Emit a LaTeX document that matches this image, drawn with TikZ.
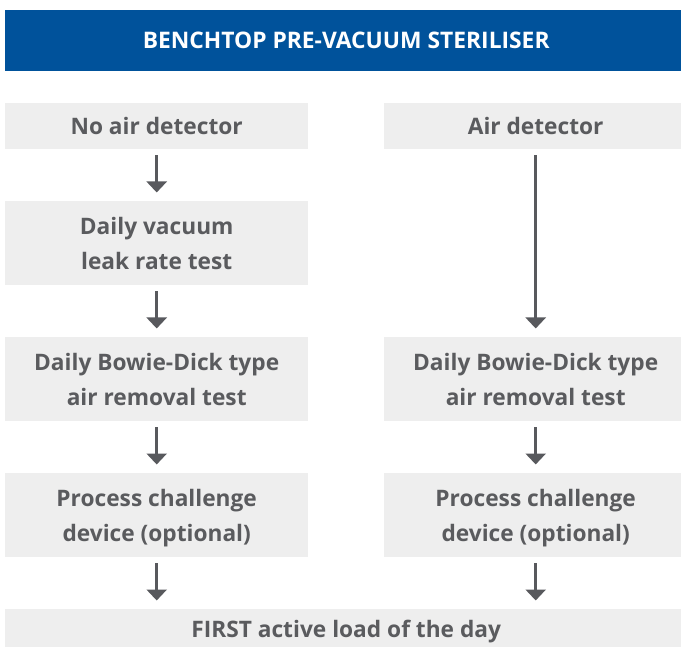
\documentclass[tikz,border=0pt]{standalone}
\usepackage{fontspec}
\setmainfont{Open Sans}
\usetikzlibrary{arrows.meta}
\definecolor{hdrblue}{RGB}{0,82,155}
\definecolor{boxgray}{RGB}{238,238,238}
\definecolor{txtgray}{RGB}{90,91,94}
\definecolor{arrgray}{RGB}{88,89,93}
\newcommand{\nodepth}[1]{\raisebox{0pt}[\height][0pt]{#1}}
\begin{document}
\begin{tikzpicture}[x=1pt,y=-1pt,
  box/.style={rectangle, fill=boxgray, inner sep=0pt, minimum width=303pt,
    text=txtgray, font=\fontsize{22.7}{35}\selectfont\bfseries, align=center,
    anchor=north west},
  onebox/.style={box, text height=16pt, text depth=0pt},
  arr/.style={draw=arrgray, line width=2.6pt,
    -{Triangle[width=20pt,length=11pt]}, shorten <=6pt, shorten >=8.5pt}]
\useasboundingbox (0,0) rectangle (681,647);
\clip (0,0) rectangle (681,647);
\node[fill=hdrblue, minimum width=682pt, minimum height=61pt, inner sep=0pt,
  anchor=north west, text=white, text height=15pt, text depth=0pt,
  font=\fontsize{22.8}{24}\selectfont\bfseries] (hdr) at (5,10)
  {BENCHTOP PRE-VACUUM STERILISER};
\node[onebox, minimum height=46pt] (l1) at (5,103) {No air detector};
\node[onebox, minimum height=46pt] (r1) at (384,103) {Air detector};
\node[box, minimum height=84pt] (l2) at (5,201) {Daily vacuum\\leak rate test};
\node[box, minimum height=84pt] (l3) at (5,337) {Daily Bowie-Dick type\\air removal test};
\node[box, minimum height=84pt] (r3) at (384,337) {Daily Bowie-Dick type\\air removal test};
\node[box, minimum height=84pt] (l4) at (5,473) {Process challenge\\\nodepth{device (optional)}};
\node[box, minimum height=84pt] (r4) at (384,473) {Process challenge\\\nodepth{device (optional)}};
\node[onebox, minimum width=682pt, minimum height=40pt] (fin) at (5,609) {FIRST active load of the day};
\draw[arr] (l1) -- (l2);
\draw[arr] (l2) -- (l3);
\draw[arr] (l3) -- (l4);
\draw[arr] (l4) -- (l4 |- fin.north);
\draw[arr] (r1) -- (r3);
\draw[arr] (r3) -- (r4);
\draw[arr] (r4) -- (r4 |- fin.north);
\end{tikzpicture}
\end{document}
